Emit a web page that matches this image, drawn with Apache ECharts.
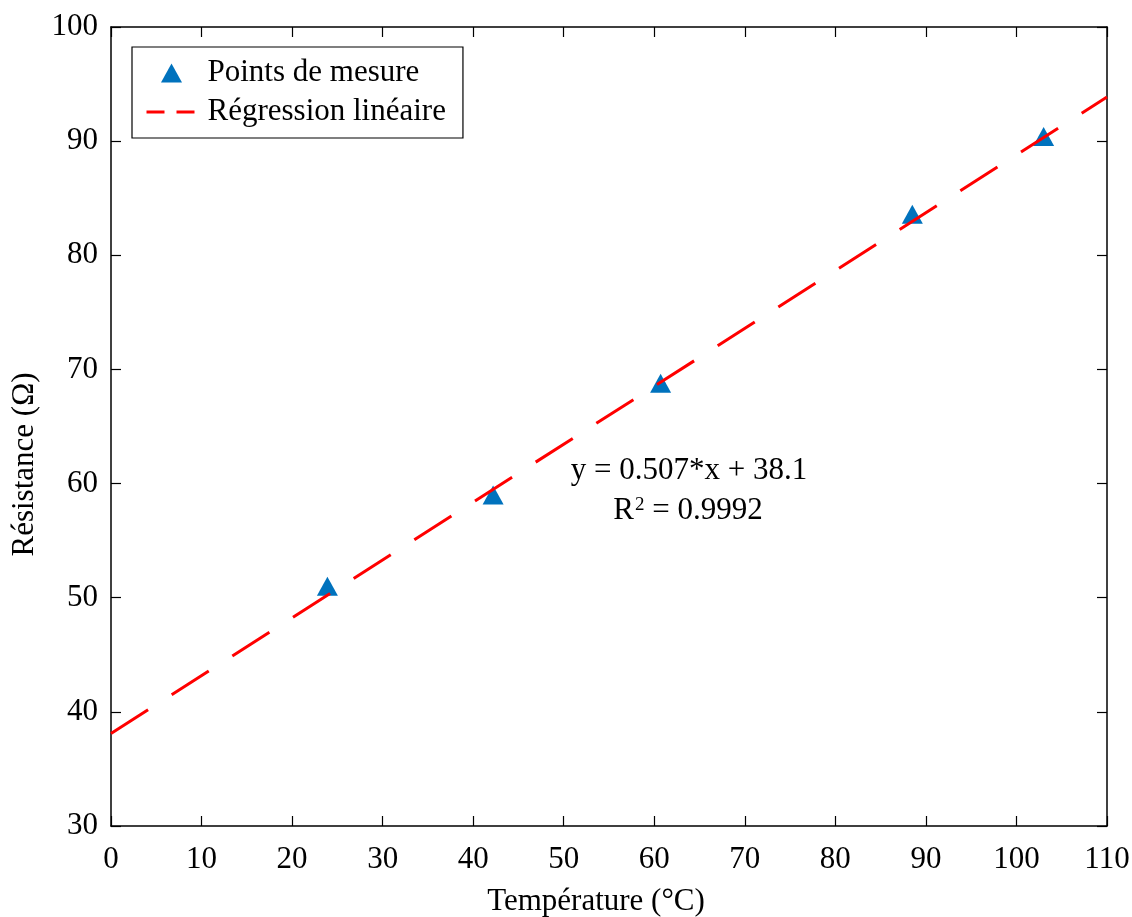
<!DOCTYPE html>
<html>
<head>
<meta charset="utf-8">
<script src="https://cdn.jsdelivr.net/npm/echarts@6/dist/echarts.min.js"></script>
<style>html,body{margin:0;padding:0;background:#fff;}#c{width:1132px;height:917px;}</style>
</head>
<body>
<div id="c"></div>
<script>
// Measured points
const temperatures = [23.9, 42.2, 60.7, 88.5, 103.0];
const resistances = [51.0, 59.0, 68.8, 83.6, 90.4];
// Regression line endpoints
const fitX = [0, 110];
const fitY = [38.1, 93.87];
const xTicks = [0, 110, 10];
const yTicks = [30, 100, 10];
const seriesNames = ['Points de mesure', 'Régression linéaire'];
const eqText = 'y = 0.507*x + 38.1';
const r2Value = '0.9992';

const FONT = 'Liberation Serif';
const FS = 31;
const chart = echarts.init(document.getElementById('c'), null, {renderer: 'canvas'});

const axisCommon = {
  axisLine: {show: true, onZero: false, lineStyle: {color: '#000', width: 1.5}},
  axisTick: {show: true, inside: true, length: 10, lineStyle: {color: '#000', width: 1.2}},
  splitLine: {show: false}
};

chart.setOption({
  backgroundColor: '#fff',
  animation: false,
  textStyle: {fontFamily: FONT},
  grid: {left: 111, right: 25, top: 27, bottom: 91, containLabel: false, outerBoundsMode: 'none'},
  legend: {
    orient: 'vertical',
    left: 132, top: 47,
    backgroundColor: '#fff',
    borderColor: '#000', borderWidth: 1.2,
    padding: [10, 17, 10, 13],
    itemWidth: 50, itemHeight: 19, itemGap: 7,
    symbolKeepAspect: true,
    textStyle: {fontFamily: FONT, fontSize: FS, color: '#000', lineHeight: 32, padding: [0, 0, 0, 6]},
    data: [
      {name: seriesNames[0], icon: 'path://M0,19 L10.5,0 L21,19 Z', itemStyle: {color: '#0072BD', opacity: 1}},
      {name: seriesNames[1], lineStyle: {type: [18, 12], width: 3, color: '#FF0000'}, itemStyle: {opacity: 0}}
    ]
  },
  xAxis: [
    Object.assign({}, axisCommon, {
      type: 'value', min: xTicks[0], max: xTicks[1], interval: xTicks[2],
      position: 'bottom',
      axisLabel: {fontFamily: FONT, fontSize: FS, color: '#000', margin: 18},
      name: 'Température (°C)', nameLocation: 'middle', nameGap: 60,
      nameTextStyle: {fontFamily: FONT, fontSize: FS, color: '#000', padding: [0, 26, 0, 0]}
    }),
    Object.assign({}, axisCommon, {
      type: 'value', min: xTicks[0], max: xTicks[1], interval: xTicks[2],
      position: 'top', axisLabel: {show: false}
    })
  ],
  yAxis: [
    Object.assign({}, axisCommon, {
      type: 'value', min: yTicks[0], max: yTicks[1], interval: yTicks[2],
      position: 'left',
      axisLabel: {fontFamily: FONT, fontSize: FS, color: '#000', margin: 13},
      name: 'Résistance (Ω)', nameLocation: 'middle', nameGap: 66,
      nameTextStyle: {fontFamily: FONT, fontSize: FS, color: '#000', padding: [0, 76, 0, 0]}
    }),
    Object.assign({}, axisCommon, {
      type: 'value', min: yTicks[0], max: yTicks[1], interval: yTicks[2],
      position: 'right', axisLabel: {show: false}
    })
  ],
  series: [
    {
      name: seriesNames[1],
      type: 'line',
      xAxisIndex: 0, yAxisIndex: 0,
      data: fitX.map((x, i) => [x, fitY[i]]),
      showSymbol: false, symbol: 'none',
      lineStyle: {color: '#FF0000', width: 3, type: [44, 28]},
      itemStyle: {color: '#FF0000'},
      z: 3
    },
    {
      name: seriesNames[0],
      type: 'scatter',
      xAxisIndex: 0, yAxisIndex: 0,
      data: temperatures.map((x, i) => [x, resistances[i]]),
      symbol: 'triangle',
      symbolSize: [21, 19],
      itemStyle: {color: '#0072BD', opacity: 1},
      z: 2
    }
  ],
  graphic: [
    {
      type: 'text', x: 689, y: 471,
      style: {text: eqText, font: FS + 'px "Liberation Serif"', fill: '#000', align: 'center', verticalAlign: 'middle'}
    },
    {
      type: 'text', x: 688, y: 511,
      style: {
        text: '{b|R}{s|2}{b| = ' + r2Value + '}',
        align: 'center', verticalAlign: 'middle',
        rich: {
          b: {fontFamily: FONT, fontSize: FS, color: '#000'},
          s: {fontFamily: FONT, fontSize: 19, color: '#000', verticalAlign: 'top', padding: [0, 0, 12, 1]}
        }
      }
    }
  ]
});
</script>
</body>
</html>
